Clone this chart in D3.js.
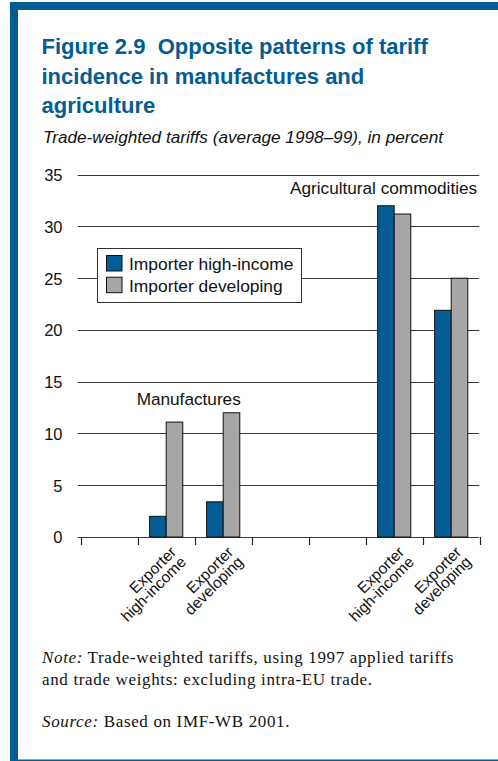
<!DOCTYPE html>
<html>
<head>
<meta charset="utf-8">
<script src="https://cdn.jsdelivr.net/npm/d3@7"></script>
<style>
  html, body { margin: 0; padding: 0; background: #fff; }
  svg { display: block; }
</style>
</head>
<body>
<svg id="chart" width="498" height="761"></svg>
<script>
// ---- Data ----
const slots = ["s0", "mHI", "mDV", "s3", "s4", "aHI", "aDV"];
const slotLabels = [[], ["Exporter", "high-income"], ["Exporter", "developing"], [], [], ["Exporter", "high-income"], ["Exporter", "developing"]];
const seriesNames = ["Importer high-income", "Importer developing"];
const importerHighIncome = [null, 2.0, 3.4, null, null, 32.0, 21.9];
const importerDeveloping = [null, 11.1, 12.0, null, null, 31.2, 25.0];
const yTicks = [0, 5, 10, 15, 20, 25, 30, 35];
const groupLabels = [
  { text: "Manufactures", from: "mHI", to: "mDV", anchor: "middle" },
  { text: "Agricultural commodities", from: "aHI", to: "aDV", anchor: "end" }
];
const titleLines = ["Figure 2.9  Opposite patterns of tariff", "incidence in manufactures and", "agriculture"];
const subtitle = "Trade-weighted tariffs (average 1998\u201399), in percent";

const BLUE = "#035d94";
const GRAY = "#a6a6a6";
const colors = [BLUE, GRAY];
const SANS = "Liberation Sans, Arial, sans-serif";

const svg = d3.select("#chart");

// ---- Frame ----
svg.append("rect").attr("x", 10).attr("y", 2).attr("width", 488).attr("height", 8).attr("fill", BLUE);
svg.append("rect").attr("x", 10).attr("y", 2).attr("width", 8).attr("height", 759).attr("fill", BLUE);
svg.append("rect").attr("x", 10).attr("y", 759.5).attr("width", 488).attr("height", 1.5).attr("fill", BLUE);

// ---- Title ----
const title = svg.append("text")
  .style("white-space", "pre")
  .attr("font-family", SANS)
  .attr("font-weight", "bold").attr("font-size", 22).attr("fill", BLUE);
titleLines.forEach((t, i) => {
  title.append("tspan").attr("x", 41.5).attr("y", 54.3 + i * 29.2).text(t);
});
svg.append("text")
  .attr("x", 43).attr("y", 142.5)
  .attr("font-family", SANS)
  .attr("font-style", "italic").attr("font-size", 17.2).attr("fill", "#111")
  .text(subtitle);

// ---- Scales ----
const y = d3.scaleLinear().domain([0, 35]).range([537, 174.7]);
const x = d3.scaleBand().domain(slots).range([80.7, 479.7]).paddingInner(0).paddingOuter(0);
const x1 = d3.scaleBand().domain(seriesNames).range([0, x.bandwidth()]).paddingInner(0).paddingOuter(0.72);

const gridX0 = 77.7, gridX1 = 479.2;

// ---- Gridlines ----
svg.append("g").selectAll("line").data(yTicks).join("line")
  .attr("x1", gridX0).attr("x2", gridX1)
  .attr("y1", d => Math.round(y(d)) + 0.5).attr("y2", d => Math.round(y(d)) + 0.5)
  .attr("stroke", "#3a3a3a").attr("stroke-width", 1);

// ---- Y axis labels ----
const yAxis = d3.axisLeft(y).tickValues(yTicks).tickSize(0).tickPadding(0);
const yg = svg.append("g").attr("transform", "translate(62.5,0)").call(yAxis);
yg.select(".domain").remove();
yg.selectAll("text")
  .attr("font-family", SANS)
  .attr("font-size", 16.5).attr("fill", "#111").attr("dy", "0.36em");

// ---- X axis ticks (band boundaries) ----
const boundaries = slots.map(s => x(s)).concat([x(slots[slots.length - 1]) + x.bandwidth()]);
svg.append("g").selectAll("line").data(boundaries).join("line")
  .attr("x1", d => Math.round(d) + 0.5).attr("x2", d => Math.round(d) + 0.5)
  .attr("y1", Math.round(y(0))).attr("y2", Math.round(y(0)) + 8)
  .attr("stroke", "#222").attr("stroke-width", 1.2);

// ---- Bars ----
const seriesValues = [importerHighIncome, importerDeveloping];
const barData = [];
slots.forEach((s, i) => {
  seriesNames.forEach((n, j) => {
    const v = seriesValues[j][i];
    if (v != null) barData.push({ slot: s, series: n, value: v, color: colors[j] });
  });
});
svg.append("g").selectAll("rect").data(barData).join("rect")
  .attr("x", d => x(d.slot) + x1(d.series))
  .attr("y", d => y(d.value))
  .attr("width", x1.bandwidth())
  .attr("height", d => y(0) - y(d.value))
  .attr("fill", d => d.color)
  .attr("stroke", "#111").attr("stroke-width", 1);

// ---- X labels (rotated) ----
const xl = svg.append("g");
slots.forEach((s, i) => {
  const lines = slotLabels[i];
  if (!lines.length) return;
  const cx = x(s) + x.bandwidth() / 2 + 11;
  const cy = 553;
  const t = xl.append("text")
    .attr("transform", `translate(${cx},${cy}) rotate(-45)`)
    .attr("text-anchor", "end")
    .attr("font-family", SANS)
    .attr("font-size", 15.5).attr("fill", "#111");
  lines.forEach((ln, k) => {
    t.append("tspan").attr("x", 0).attr("dy", k === 0 ? 0 : 14).text(ln);
  });
});

// ---- Group labels ----
groupLabels.forEach(g => {
  const xs = g.anchor === "middle"
    ? (x(g.from) + x(g.to) + x.bandwidth()) / 2 - 6
    : gridX1 - 2;
  svg.append("text")
    .attr("x", xs).attr("y", g.anchor === "middle" ? 404.5 : 194)
    .attr("text-anchor", g.anchor)
    .attr("font-family", SANS)
    .attr("font-size", 17.2).attr("fill", "#111")
    .text(g.text);
});

// ---- Legend ----
const lg = svg.append("g");
lg.append("rect").attr("x", 97.5).attr("y", 248.5).attr("width", 204).attr("height", 54)
  .attr("fill", "#fff").attr("stroke", "#333").attr("stroke-width", 1);
seriesNames.forEach((n, j) => {
  lg.append("rect").attr("x", 106.5).attr("y", 255.5 + j * 21.7).attr("width", 15.5).attr("height", 15.5)
    .attr("fill", colors[j]).attr("stroke", "#111").attr("stroke-width", 1);
  lg.append("text").attr("x", 129).attr("y", 270 + j * 21.7)
    .attr("font-family", SANS)
    .attr("font-size", 17.4).attr("fill", "#111").text(n);
});

// ---- Notes ----
const serif = "Liberation Serif, Times New Roman, serif";
const note = svg.append("g").attr("font-family", serif).attr("font-size", 17)
  .attr("letter-spacing", 0.65).attr("fill", "#111");
const n1 = note.append("text").attr("x", 42).attr("y", 663);
n1.append("tspan").attr("font-style", "italic").text("Note:");
n1.append("tspan").text(" Trade-weighted tariffs, using 1997 applied tariffs");
note.append("text").attr("x", 42).attr("y", 685).text("and trade weights: excluding intra-EU trade.");
const n3 = note.append("text").attr("x", 42).attr("y", 726.5);
n3.append("tspan").attr("font-style", "italic").text("Source:");
n3.append("tspan").text(" Based on IMF-WB 2001.");
</script>
</body>
</html>
